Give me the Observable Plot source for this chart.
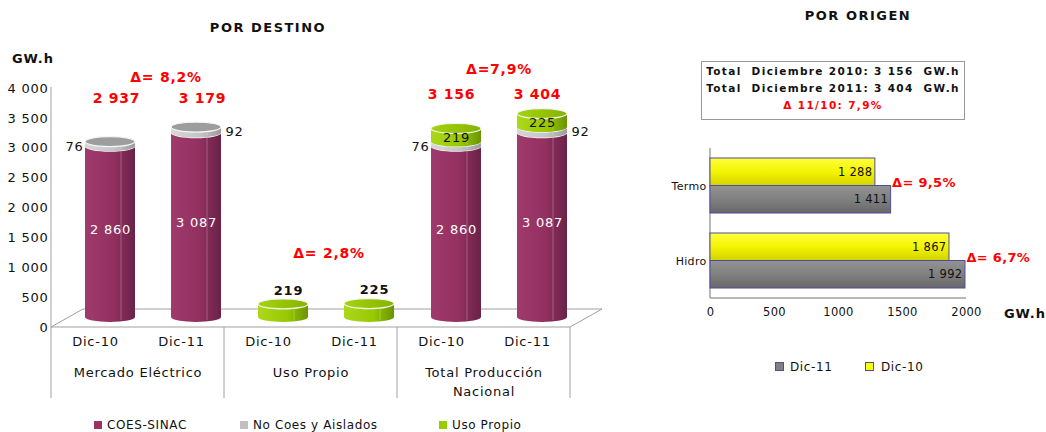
<!DOCTYPE html>
<html><head><meta charset="utf-8">
<script src="https://cdn.jsdelivr.net/npm/d3@7"></script>
<script src="https://cdn.jsdelivr.net/npm/@observablehq/plot@0.6"></script>
<style>
body{margin:0;background:#fff;font-family:"DejaVu Sans",sans-serif;color:#111;}
#wrap{position:relative;width:1046px;height:432px;overflow:hidden;background:#fff}
#wrap svg{position:absolute;top:0}
.abs{position:absolute;white-space:nowrap;transform:translate(-50%,-50%);line-height:1}
.ttl{font-weight:bold;font-size:13px;letter-spacing:1.5px}
.unit{font-weight:bold;font-size:13px;letter-spacing:1px}
.box{position:absolute;left:701px;top:61px;width:262px;height:56px;border:1.5px solid #999;text-align:center;font-weight:bold;font-size:10.5px;letter-spacing:1.35px;box-sizing:content-box}
.box div{height:17px;line-height:17px;white-space:pre}
.leg{position:absolute;font-size:12px;letter-spacing:0.6px;white-space:nowrap;line-height:1}
.sw{position:absolute;width:8px;height:8px}
</style></head><body><div id="wrap"></div>
<script>
// ---------- data: POR DESTINO ----------
const groups = ["Mercado Eléctrico", "Uso Propio", "Total Producción Nacional"];
const periods = ["Dic-10", "Dic-11"];
const series = ["COES-SINAC", "No Coes y Aislados", "Uso Propio"];
const coesSinac = [2860, 3087];
const noCoes = [76, 92];
const usoPropio = [219, 225];
const totalMercado = [2937, 3179];
const totalProduccion = [3156, 3404];
const deltaDestino = ["Δ= 8,2%", "Δ= 2,8%", "Δ=7,9%"];
const yTicks = [0, 500, 1000, 1500, 2000, 2500, 3000, 3500, 4000];

// ---------- data: POR ORIGEN ----------
const origins = ["Termo", "Hidro"];
const origen2010 = [1288, 1867];
const origen2011 = [1411, 1992];
const deltaOrigen = ["Δ= 9,5%", "Δ= 6,7%"];
const xTicksOrigen = [0, 500, 1000, 1500, 2000];
const boxLines = ["Total  Diciembre 2010: 3 156  GW.h", "Total  Diciembre 2011: 3 404  GW.h", "Δ 11/10: 7,9%"];

const fmt = v => d3.format(",")(v).replace(/,/g, " ");
const wrap = document.getElementById("wrap");

// ---------- build rows ----------
const segs = [];
periods.forEach((p, i) => {
  segs.push({group: groups[0], period: p, series: series[0], value: coesSinac[i]});
  segs.push({group: groups[2], period: p, series: series[0], value: coesSinac[i]});
});
periods.forEach((p, i) => {
  segs.push({group: groups[0], period: p, series: series[1], value: noCoes[i]});
  segs.push({group: groups[2], period: p, series: series[1], value: noCoes[i]});
});
periods.forEach((p, i) => {
  segs.push({group: groups[1], period: p, series: series[2], value: usoPropio[i]});
  segs.push({group: groups[2], period: p, series: series[2], value: usoPropio[i]});
});

const coesLbl = [], noCoesLbl = [], greenTotLbl = [], usoLbl = [], totM = [], totT = [];
periods.forEach((p, i) => {
  for (const g of [groups[0], groups[2]]) {
    coesLbl.push({group: g, period: p, y: coesSinac[i] / 2, text: fmt(coesSinac[i])});
    noCoesLbl.push({group: g, period: p, y: coesSinac[i] + noCoes[i] / 2, text: fmt(noCoes[i])});
  }
  greenTotLbl.push({group: groups[2], period: p, y: coesSinac[i] + noCoes[i] + usoPropio[i] / 2, text: fmt(usoPropio[i])});
  usoLbl.push({group: groups[1], period: p, y: usoPropio[i], text: fmt(usoPropio[i])});
  totM.push({group: groups[0], period: p, text: fmt(totalMercado[i])});
  totT.push({group: groups[2], period: p, text: fmt(totalProduccion[i])});
});
const deltaRowsD = groups.map((g, i) => ({group: g, text: deltaDestino[i]}));

const colorRange = ["#993366", "#c0c0c0", "#99cc00"];
const red = "#ff0000";

const left = Plot.plot({
  width: 640, height: 432,
  marginLeft: 50, marginRight: 70, marginTop: 88, marginBottom: 105,
  style: {fontFamily: "DejaVu Sans", fontSize: "13px", color: "#111", letterSpacing: "0.75px", overflow: "visible", background: "transparent"},
  fx: {domain: groups, padding: 0},
  x: {domain: periods, paddingInner: 0.42, paddingOuter: 0.21},
  y: {domain: [0, 4000]},
  color: {domain: series, range: colorRange},
  marks: [
    Plot.axisY({ticks: yTicks, tickSize: 0, tickPadding: 3, tickFormat: fmt, label: null}),
    Plot.axisX({tickSize: 0, tickPadding: 9, label: null}),
    Plot.axisFx({anchor: "bottom", tickSize: 0, tickPadding: 37, label: null, lineHeight: 1.4,
      tickFormat: d => d === groups[2] ? "Total Producción\nNacional" : d}),
    Plot.barY(segs, {fx: "group", x: "period", y: "value", fill: "series"}),
    Plot.text(coesLbl, {fx: "group", x: "period", y: "y", text: "text", fill: "white", dx: 15, dy: -12}),
    Plot.text(noCoesLbl.filter(d => d.period === periods[0]), {fx: "group", x: "period", y: "y", text: "text", textAnchor: "end", dx: -12, dy: -8, fill: "#111"}),
    Plot.text(noCoesLbl.filter(d => d.period === periods[1]), {fx: "group", x: "period", y: "y", text: "text", textAnchor: "start", dx: 44, dy: -8, fill: "#111"}),
    Plot.text(greenTotLbl, {fx: "group", x: "period", y: "y", text: "text", dx: 15, dy: -8, fill: "#111"}),
    Plot.text(usoLbl, {fx: "group", x: "period", y: "y", text: "text", dx: 20, dy: -24, fontWeight: "bold", fill: "#111", letterSpacing: "1.5px"}),
    Plot.text(totM, {fx: "group", x: "period", frameAnchor: "top", text: "text", dx: 21, dy: 5, fill: red, fontWeight: "bold", fontSize: 14, letterSpacing: "0.5px"}),
    Plot.text(totT, {fx: "group", x: "period", frameAnchor: "top", text: "text", dx: 10, dy: 1, fill: red, fontWeight: "bold", fontSize: 14, letterSpacing: "0.5px"}),
    Plot.text([deltaRowsD[0]], {fx: "group", frameAnchor: "top", text: "text", dx: 28, dy: -16, fill: red, fontWeight: "bold", fontSize: 14, letterSpacing: "0.8px"}),
    Plot.text([deltaRowsD[1]], {fx: "group", frameAnchor: "top", text: "text", dx: 18, dy: 160, fill: red, fontWeight: "bold", fontSize: 14, letterSpacing: "0.8px"}),
    Plot.text([deltaRowsD[2]], {fx: "group", frameAnchor: "top", text: "text", dx: 15, dy: -24, fill: red, fontWeight: "bold", fontSize: 14, letterSpacing: "0.8px"})
  ]
});
left.style.left = "0px";
wrap.appendChild(left);

// ---- 3D cylinders and floor (derived from the rendered marks / scales) ----
(function decorateLeft() {
  const svg = d3.select(left);
  const defs = svg.append("defs");
  function hgrad(id, stops, vertical) {
    const g = defs.append("linearGradient").attr("id", id).attr("x1", 0).attr("y1", 0).attr("x2", vertical ? 0 : 1).attr("y2", vertical ? 1 : 0);
    stops.forEach(([o, c]) => g.append("stop").attr("offset", o).attr("stop-color", c));
  }
  hgrad("gP", [[0, "#a03a6c"], [0.55, "#933161"], [1, "#6a2248"]]);
  hgrad("gS", [[0, "#d8d8d8"], [0.6, "#c4c4c4"], [1, "#9c9c9c"]]);
  hgrad("gG", [[0, "#acd81c"], [0.6, "#98c800"], [1, "#6a9400"]]);
  hgrad("gGc", [[0, "#a4d40c"], [1, "#86b400"]]);
  const bodyFill = {"#993366": "url(#gP)", "#c0c0c0": "url(#gS)", "#99cc00": "url(#gG)"};
  const capFill = {"#993366": "#a5447a", "#c0c0c0": "#9d9d9d", "#99cc00": "url(#gGc)"};
  const OX = 15, OY = -10, RY = 5;
  svg.selectAll('g[aria-label="bar"] rect').each(function () {
    const r = d3.select(this);
    const x = +r.attr("x") + OX, y = +r.attr("y") + OY, w = +r.attr("width"), h = +r.attr("height");
    const f = (r.attr("fill") || "").toLowerCase();
    const p = d3.select(this.parentNode);
    const rx = w / 2, yb = y + h;
    p.append("path").attr("d", `M${x},${y}L${x},${yb}A${rx},${RY} 0 0 0 ${x + w},${yb}L${x + w},${y}Z`).attr("fill", bodyFill[f] || f);
    p.append("line").attr("x1", x + w * 0.72).attr("x2", x + w * 0.72).attr("y1", y + 2).attr("y2", yb + 3).attr("stroke", "#fff").attr("stroke-opacity", 0.25);
    p.append("ellipse").attr("cx", x + rx).attr("cy", y).attr("rx", rx).attr("ry", RY)
      .attr("fill", capFill[f] || f).attr("stroke", "#f4f4f4").attr("stroke-width", 1.2);
    r.remove();
  });
  const fx = left.scale("fx"), y = left.scale("y");
  const bw = fx.bandwidth;
  const xs = groups.map(g => fx.apply(g));
  const x0 = xs[0], x1 = xs[xs.length - 1] + bw;
  const y0 = y.apply(0), yTop = y.apply(4000);
  const DX = 32, DY = -18;
  const floor = document.createElementNS("http://www.w3.org/2000/svg", "g");
  left.insertBefore(floor, left.querySelector("g"));
  const fl = d3.select(floor).attr("stroke", "#a0a0a0").attr("stroke-width", 1).attr("fill", "none");
  const seg = (a, b, c, d) => fl.append("line").attr("x1", a).attr("y1", b).attr("x2", c).attr("y2", d);
  seg(x0, yTop - 1, x0, y0);
  seg(x0, y0, x1, y0);
  seg(x0, y0, x0 + DX, y0 + DY);
  seg(x0 + DX, y0 + DY, x1 + DX, y0 + DY);
  seg(x1, y0, x1 + DX, y0 + DY);
  [...xs, x1].forEach(xx => seg(xx, y0, xx, y0 + 71));
})();

// ---------- POR ORIGEN ----------
const rows10 = origins.map((o, i) => ({origin: o, period: "Dic-10", value: origen2010[i]}));
const rows11 = origins.map((o, i) => ({origin: o, period: "Dic-11", value: origen2011[i]}));
const deltaRowsO = origins.map((o, i) => ({origin: o, value: origen2011[i], text: deltaOrigen[i]}));

const right = Plot.plot({
  width: 406, height: 432,
  marginLeft: 70, marginRight: 80, marginTop: 148, marginBottom: 134,
  style: {fontFamily: "DejaVu Sans", fontSize: "11.5px", color: "#111", letterSpacing: "0.3px", overflow: "visible", background: "transparent"},
  x: {domain: [0, 2000]},
  y: {domain: origins, padding: 0},
  color: {domain: ["Dic-10", "Dic-11"], range: ["#ffff00", "#808080"]},
  marks: [
    Plot.axisX({ticks: xTicksOrigen, tickSize: 0, tickPadding: 9, label: null, tickFormat: d => String(d)}),
    Plot.axisY({tickSize: 0, tickPadding: 4, label: null, fontSize: 11}),
    Plot.barX(rows10, {x: "value", y: "origin", fill: "period", stroke: "#4d4d9e", strokeWidth: 1, insetTop: 10, insetBottom: 37.5}),
    Plot.barX(rows11, {x: "value", y: "origin", fill: "period", stroke: "#4d4d9e", strokeWidth: 1, insetTop: 37.5, insetBottom: 10}),
    Plot.text(rows10, {x: "value", y: "origin", text: d => fmt(d.value), textAnchor: "end", dx: -3, dy: -13.5, fill: "#111"}),
    Plot.text(rows11, {x: "value", y: "origin", text: d => fmt(d.value), textAnchor: "end", dx: -3, dy: 13.5, fill: "#111"}),
    Plot.text(deltaRowsO, {x: "value", y: "origin", text: "text", textAnchor: "start", dx: 1, dy: -3, fill: red, fontWeight: "bold", fontSize: 13, letterSpacing: "0.8px"})
  ]
});
right.style.left = "640px";
wrap.appendChild(right);

(function decorateRight() {
  const svg = d3.select(right);
  const defs = svg.append("defs");
  const mk = (id, stops) => {
    const g = defs.append("linearGradient").attr("id", id).attr("x1", 0).attr("y1", 0).attr("x2", 0).attr("y2", 1);
    stops.forEach(([o, c]) => g.append("stop").attr("offset", o).attr("stop-color", c));
  };
  mk("gY", [[0, "#ffff40"], [0.5, "#f4f400"], [1, "#d2d200"]]);
  mk("gK", [[0, "#939393"], [0.5, "#808080"], [1, "#686868"]]);
  svg.selectAll('g[aria-label="bar"] rect').each(function () {
    const f = (this.getAttribute("fill") || "").toLowerCase();
    if (f === "#ffff00") this.setAttribute("fill", "url(#gY)");
    if (f === "#808080") this.setAttribute("fill", "url(#gK)");
  });
  const x = right.scale("x");
  const x0 = x.apply(0), x1 = x.apply(2000);
  const top = 148, bot = 432 - 134;
  const g = document.createElementNS("http://www.w3.org/2000/svg", "g");
  right.insertBefore(g, right.querySelector("g"));
  const sel = d3.select(g).attr("stroke", "#a0a0a0").attr("stroke-width", 1.5);
  sel.append("line").attr("x1", x0).attr("x2", x0).attr("y1", top).attr("y2", bot);
  sel.append("line").attr("x1", x0).attr("x2", x1).attr("y1", bot).attr("y2", bot);
})();

// ---------- titles, units, box, legends ----------
function addText(txt, cls, x, y, extra) {
  const d = document.createElement("div");
  d.className = "abs " + cls;
  d.textContent = txt;
  d.style.left = x + "px"; d.style.top = y + "px";
  if (extra) Object.assign(d.style, extra);
  wrap.appendChild(d);
}
addText("POR DESTINO", "ttl", 268, 27);
addText("POR ORIGEN", "ttl", 858, 15);
addText("GW.h", "unit", 33, 58);
addText("GW.h", "unit", 1025, 313);

const box = document.createElement("div");
box.className = "box";
boxLines.forEach((t, i) => {
  const d = document.createElement("div");
  d.textContent = t;
  if (i === 2) d.style.color = red;
  box.appendChild(d);
});
box.style.paddingTop = "1px";
wrap.appendChild(box);

function legendItem(label, color, sx, tx, cy, border) {
  const s = document.createElement("div");
  s.className = "sw";
  s.style.left = sx + "px"; s.style.top = (cy - 4) + "px"; s.style.background = color;
  if (border) { s.style.border = "1.5px solid " + border; s.style.width = "7px"; s.style.height = "7px"; s.style.top = (cy - 5) + "px"; }
  wrap.appendChild(s);
  const t = document.createElement("div");
  t.className = "leg"; t.textContent = label;
  t.style.left = tx + "px"; t.style.top = (cy - 6) + "px";
  wrap.appendChild(t);
}
legendItem(series[0], colorRange[0], 94, 107, 425);
legendItem(series[1], colorRange[1], 240, 253, 425);
legendItem(series[2], colorRange[2], 439, 452, 425);
legendItem("Dic-11", "#808080", 775, 790, 367, "#4d4d9e");
legendItem("Dic-10", "#ffff00", 865, 881, 367, "#4d4d9e");
</script></body></html>
